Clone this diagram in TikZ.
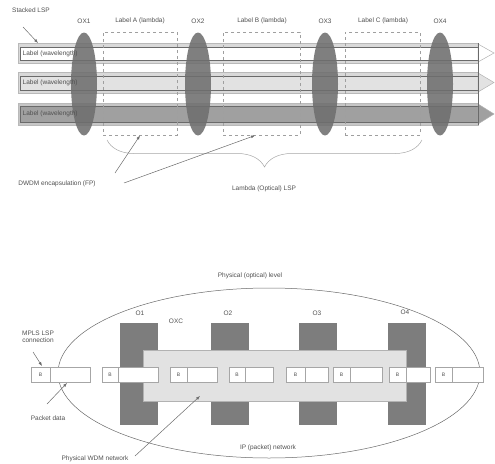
\documentclass[tikz,border=0pt]{standalone}
\usepackage{fontspec}
\setmainfont{Liberation Sans}
\usetikzlibrary{shapes.geometric,decorations.pathreplacing,arrows.meta}
\definecolor{dk}{HTML}{6E6E6E}
\definecolor{lt}{HTML}{E2E2E2}
\definecolor{md}{HTML}{A0A0A0}
\definecolor{tx}{HTML}{505050}
\definecolor{ln}{HTML}{6A6A6A}
\begin{document}
\begin{tikzpicture}[x=1pt,y=-1pt,
  lbl/.style={font=\fontsize{6.5}{7.5}\selectfont, text=tx, inner sep=0.5pt},
  oxc/.style={ellipse, fill=dk, fill opacity=0.88, draw=none, minimum width=26pt, minimum height=103pt, inner sep=0pt},
  dbox/.style={draw=gray!75, dashed, line width=0.5pt, rectangle, minimum height=103pt, inner sep=0pt},
  ptr/.style={draw=ln, line width=0.5pt, -{Latex[length=4pt,width=3pt]}},
  rowout/.style={draw=gray!55, line width=0.6pt, fill=gray!30},
  rowin/.style={draw=ln, line width=0.5pt},
  sq/.style={rectangle, draw=gray!70, fill=white, line width=0.5pt, minimum height=15pt, inner sep=0pt, font=\fontsize{5}{6}\selectfont, text=tx},
  hw/.style={rectangle, fill=dk!90, draw=none, minimum width=38pt, minimum height=102pt, inner sep=0pt},
]
\useasboundingbox (0,0) rectangle (495,463);

% ---------- top diagram ----------
% rows
\draw[rowout] (18,43) rectangle (478,63);
\draw[rowin, fill=white] (20,47) rectangle (478,60);
\draw[draw=gray!60, fill=white, line width=0.5pt] (478,44) -- (494,53) -- (478,62) -- cycle;
\draw[rowout] (18,72) rectangle (478,93);
\draw[rowin, fill=lt] (20,76) rectangle (478,90);
\draw[draw=gray!60, fill=lt, line width=0.5pt] (478,73) -- (494,82.5) -- (478,92) -- cycle;
\draw[rowout, fill=gray!45] (18,103) rectangle (478,125);
\draw[rowin, fill=md] (20,106) rectangle (478,122);
\draw[draw=gray!60, fill=md, line width=0.5pt] (478,104) -- (494,114) -- (478,124) -- cycle;
\draw[ln, line width=0.8pt] (478,43) -- (478,125);

% OXC ellipses
\node[oxc] (e1) at (84,84) {};
\node[oxc] (e2) at (198,84) {};
\node[oxc] (e3) at (325,84) {};
\node[oxc] (e4) at (440,84) {};

% row texts
\node[lbl, anchor=west] (t1) at (22,53.5) {Label (wavelength)};
\node[lbl, anchor=west] (t2) at (22,83) {Label (wavelength)};
\node[lbl, anchor=west] (t3) at (22,114) {Label (wavelength)};

% dashed label boxes
\node[dbox, minimum width=74pt] (b1) at (140,83.5) {};
\node[dbox, minimum width=77pt] (b2) at (261.5,83.5) {};
\node[dbox, minimum width=75pt] (b3) at (382.5,83.5) {};

% labels above
\node[lbl] (le1) at (84,21) {OX1};
\node[lbl] (lb1) at (140,21) {Label A (lambda)};
\node[lbl] (le2) at (198,21) {OX2};
\node[lbl] (lb2) at (262,21) {Label B (lambda)};
\node[lbl] (le3) at (325,21) {OX3};
\node[lbl] (lb3) at (383,21) {Label C (lambda)};
\node[lbl] (le4) at (440,21) {OX4};

\node[lbl] (stk) at (31,10) {Stacked LSP};
\coordinate (stkS) at (23,27);
\coordinate (stkT) at (38,43);
\draw[ptr] (stkS) -- (stkT);

% brace
\coordinate (brL) at (107,140);
\coordinate (brR) at (422,140);
\draw[draw=gray!70, line width=0.5pt, decorate, decoration={brace, mirror, amplitude=27pt, aspect=0.5}] (brL) -- (brR);
\node[lbl] (lam) at (264,189) {Lambda (Optical) LSP};

\node[lbl] (dwdm) at (57,184) {DWDM encapsulation (FP)};
\coordinate (a1s) at (115,173);
\coordinate (a1t) at (140,135.5);
\coordinate (a2s) at (124,183);
\coordinate (a2t) at (255,135.5);
\draw[ptr] (a1s) -- (a1t);
\draw[ptr] (a2s) -- (a2t);

% ---------- bottom diagram ----------
\draw[draw=ln, line width=0.5pt] (269,373) ellipse [x radius=211pt, y radius=85pt];
\node[lbl] (phys) at (250,276) {Physical (optical) level};

\node[hw] (r1) at (139,374) {};
\node[hw] (r2) at (229.5,374) {};
\node[hw] (r3) at (317.5,374) {};
\node[hw] (r4) at (406.5,374) {};
\node[rectangle, fill=lt, draw=gray!60, line width=0.5pt, minimum width=263pt, minimum height=51pt, inner sep=0pt] (band) at (274.5,375.5) {};

\node[lbl] (o1) at (140,313) {O1};
\node[lbl] (oxc) at (176,321) {OXC};
\node[lbl] (o2) at (228,313) {O2};
\node[lbl] (o3) at (317,313) {O3};
\node[lbl] (o4) at (405,312) {O4};

% packets
\foreach \a/\b/\c/\n in {31/50/90/1, 102/118/158/2, 170/187/217/3, 229/245/273/4, 286/305/328/5, 333/350/382/6, 389/406/430/7, 435/452/483/8} {
  \node[sq, minimum width={(\b-\a)*1pt}] (h\n) at ({(\a+\b)/2},374.5) {B};
  \node[sq, minimum width={(\c-\b)*1pt}] (p\n) at ({(\b+\c)/2},374.5) {};
}

\node[lbl, align=center] (mpls) at (38,337) {MPLS LSP\\connection};
\coordinate (m1s) at (33,352);
\coordinate (m1t) at (42,366);
\draw[ptr] (m1s) -- (m1t);

\node[lbl] (pkt) at (48,418) {Packet data};
\coordinate (k1s) at (47,404);
\coordinate (k1t) at (67,383);
\draw[ptr] (k1s) -- (k1t);

\node[lbl] (wdm) at (95,459) {Physical WDM network};
\coordinate (w1s) at (135,456);
\coordinate (w1t) at (200,396);
\draw[ptr] (w1s) -- (w1t);

\node[lbl] (ipn) at (268,448) {IP (packet) network};
\end{tikzpicture}
\end{document}
